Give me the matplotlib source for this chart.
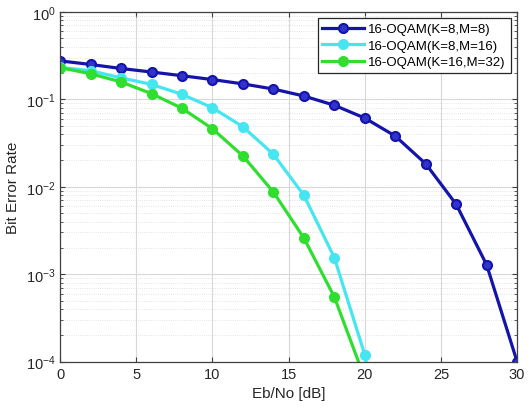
import numpy as np
import matplotlib
matplotlib.use("Agg")
import matplotlib.pyplot as plt
from matplotlib.ticker import LogLocator, NullFormatter

plt.rcParams['font.family'] = ['Liberation Sans', 'DejaVu Sans']

# Eb/No axis (dB)
ebno = [0, 2, 4, 6, 8, 10, 12, 14, 16, 18, 20, 22, 24, 26, 28, 30]

# BER curves
ber_k8_m8 = [0.275, 0.250, 0.225, 0.205, 0.186, 0.168, 0.150, 0.131, 0.109,
             0.0855, 0.061, 0.038, 0.0183, 0.0063, 0.00128, 0.0001]
ber_k8_m16 = [0.232, 0.212, 0.176, 0.148, 0.114, 0.080, 0.0485, 0.0235,
              0.0080, 0.00155, 0.00012, 0.0000015]
ber_k16_m32 = [0.230, 0.196, 0.158, 0.116, 0.079, 0.046, 0.0225, 0.0087,
               0.0026, 0.00055, 0.000064]

labels = ['16-OQAM(K=8,M=8)', '16-OQAM(K=8,M=16)', '16-OQAM(K=16,M=32)']
colors = ['#1414a8', '#46e6f0', '#30de30']
faces = ['#3232cc', '#46e6f0', '#30de30']

fig = plt.figure(figsize=(5.32, 4.14), dpi=100)
ax = fig.add_axes([0.113, 0.124, 0.859, 0.845])

series = [ber_k8_m8, ber_k8_m16, ber_k16_m32]
for vals, lab, col, fc in zip(series, labels, colors, faces):
    x = ebno[:len(vals)]
    ax.semilogy(x, vals, '-o', color=col, lw=2.3, ms=6.5,
                mfc=fc, mec=col, mew=1.5, label=lab)

ax.set_xlim(0, 30)
ax.set_ylim(1e-4, 1)
ax.set_xticks([0, 5, 10, 15, 20, 25, 30])
ax.yaxis.set_major_locator(LogLocator(base=10, numticks=10))
ax.yaxis.set_minor_locator(LogLocator(base=10, subs=np.arange(2, 10), numticks=20))
ax.yaxis.set_minor_formatter(NullFormatter())

ax.grid(True, which='major', color='#d8d8d8', lw=0.8)
ax.grid(True, which='minor', axis='y', color='#dcdcdc', lw=0.6, ls=':')
ax.set_axisbelow(True)

for sp in ax.spines.values():
    sp.set_color('#404040')
    sp.set_linewidth(0.9)
ax.tick_params(direction='in', which='both', colors='#404040', labelcolor='#262626',
               labelsize=10.5, top=True, right=True)
ax.tick_params(which='minor', length=2)

ax.set_xlabel('Eb/No [dB]', fontsize=11, color='#262626')
ax.set_ylabel('Bit Error Rate', fontsize=11, color='#262626')

leg = ax.legend(loc='upper right', fontsize=9.5, fancybox=False, framealpha=1,
                edgecolor='#262626', borderpad=0.35, labelspacing=0.33,
                handlelength=3.2, handletextpad=0.3, borderaxespad=0.5)
leg.get_frame().set_linewidth(0.9)

fig.savefig('out.png', dpi=100)
